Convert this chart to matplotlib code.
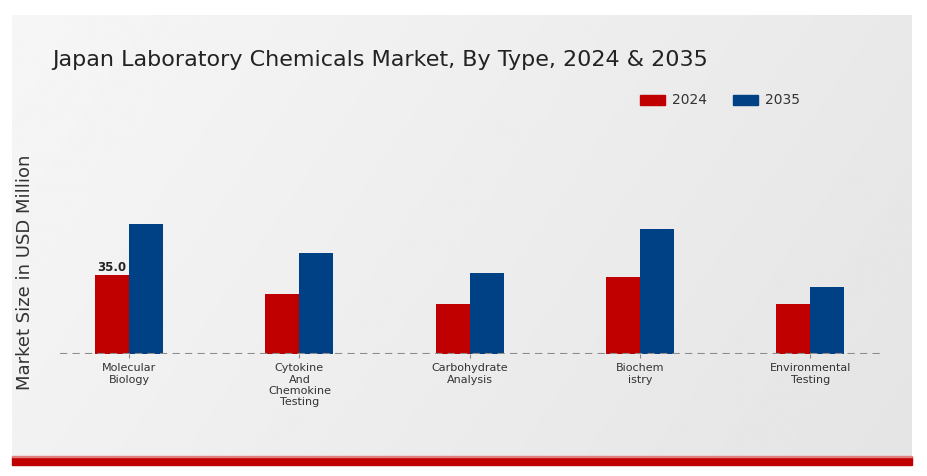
import numpy as np
import matplotlib.pyplot as plt
from matplotlib.patches import Rectangle

# data
categories = ["Molecular\nBiology", "Cytokine\nAnd\nChemokine\nTesting",
              "Carbohydrate\nAnalysis", "Biochem\nistry", "Environmental\nTesting"]
years = ["2024", "2035"]
values_2024 = [35.0, 26.8, 22.0, 34.1, 22.0]
values_2035 = [58.0, 45.1, 35.9, 55.8, 29.8]
colors = ["#c00000", "#004185"]

plt.rcParams['font.family'] = ['DejaVu Sans']

W, H = 928, 476
fig = plt.figure(figsize=(W / 100, H / 100), dpi=100)
fig.patch.set_facecolor("white")

# grey gradient panel behind everything (lighter at top left)
bg = fig.add_axes([12 / W, 1 - 457 / H, 900 / W, 442 / H], zorder=-1)
grad = np.linspace(0, 1, 256)
gx, gy = np.meshgrid(grad, grad)
bg.imshow(0.965 - 0.07 * (0.75 * gx + 0.25 * gy), cmap="gray", vmin=0, vmax=1,
          aspect="auto", extent=[0, 1, 0, 1], origin="upper")
bg.set_axis_off()

# red stripe at the bottom
fig.patches.append(Rectangle((12 / W, 1 - 465 / H), 900 / W, 8 / H,
                             transform=fig.transFigure, color="#c00000", zorder=2))
fig.patches.append(Rectangle((12 / W, 1 - 457 / H), 900 / W, 1.5 / H,
                             transform=fig.transFigure, color="#e08080", zorder=2))

# main axes: baseline at y=353.7 px, 0.4464 units per px
base_px, top_px = 353.7, 140
left_px, right_px = 60, 880
ax = fig.add_axes([left_px / W, 1 - base_px / H, (right_px - left_px) / W,
                   (base_px - top_px) / H])
ax.patch.set_alpha(0)
x = np.arange(len(categories))
w = 0.2
ax.bar(x - w / 2, values_2024, w, color=colors[0], label=years[0])
ax.bar(x + w / 2, values_2035, w, color=colors[1], label=years[1])
ax.set_xlim(-0.406, 4.41)
ax.set_ylim(0, (base_px - top_px) * 35.0 / 78.4)
ax.axhline(0, color="#8c8c8c", lw=1.5, ls=(0, (3.5, 2.5)))
for s in ax.spines.values():
    s.set_visible(False)
ax.set_yticks([])
ax.set_xticks(x)
ax.set_xticklabels(categories, fontsize=8, color="#333333", linespacing=1.15)
ax.tick_params(axis="x", length=3, color="#888888", pad=4)

ax.text(x[0] - w / 2, values_2024[0] + 0.8, f"{values_2024[0]:.1f}", ha="center",
        va="bottom", fontsize=8.5, fontweight="bold", color="#222222")

fig.text(52 / W, 1 - 60 / H, "Japan Laboratory Chemicals Market, By Type, 2024 & 2035",
         fontsize=16, color="#222222", va="center", ha="left")
fig.text(25 / W, 1 - 272 / H, "Market Size in USD Million", rotation=90,
         fontsize=13, color="#333333", va="center", ha="center")

# legend
for i, (lab, c) in enumerate(zip(years, colors)):
    x0 = 640 + i * 93
    fig.patches.append(Rectangle((x0 / W, 1 - 105 / H), 25 / W, 10 / H,
                                 transform=fig.transFigure, color=c))
    fig.text((x0 + 32) / W, 1 - 100 / H, lab, fontsize=10, color="#333333",
             va="center", ha="left")

fig.savefig("out.png", dpi=100)
